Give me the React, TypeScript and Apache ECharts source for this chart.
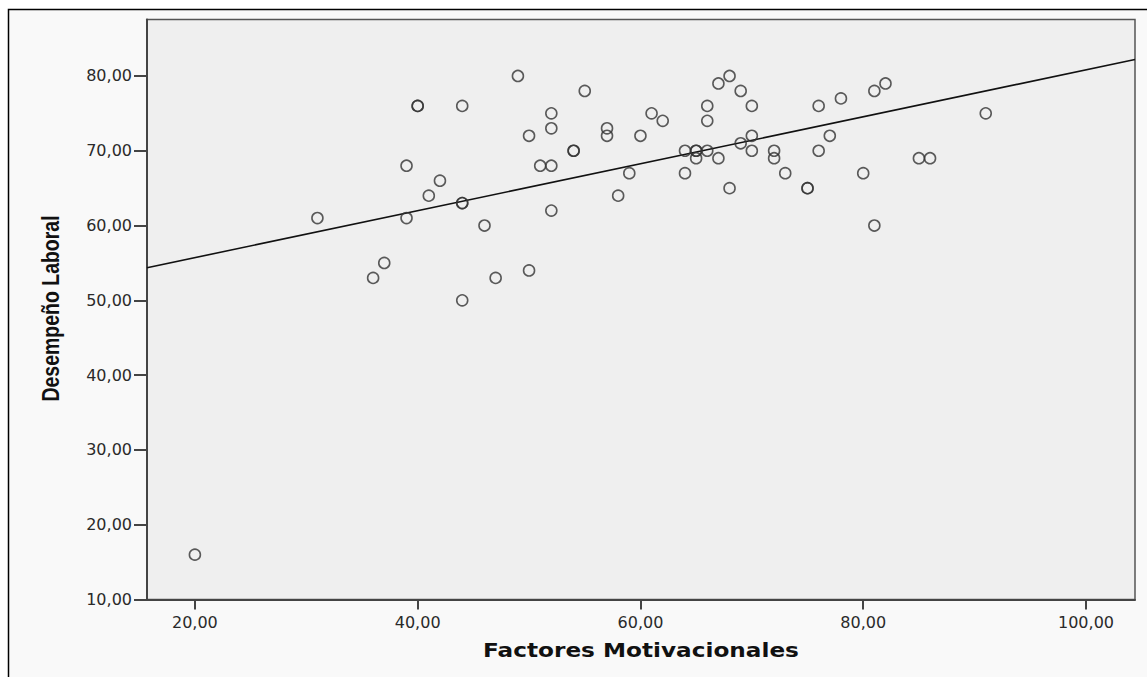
import React, { useEffect, useRef } from "react";
import * as echarts from "echarts";

const xTicks = [20, 40, 60, 80, 100];
const yTicks = [10, 20, 30, 40, 50, 60, 70, 80];
const xTitle = "Factores Motivacionales";
const yTitle = "Desempeño Laboral";

// [Factores Motivacionales, Desempeño Laboral]
const points: [number, number][] = [
  [20, 16], [31, 61], [36, 53], [37, 55], [39, 68], [39, 61], [40, 76], [40, 76],
  [41, 64], [42, 66], [44, 76], [44, 63], [44, 63], [44, 50], [46, 60], [47, 53],
  [49, 80], [50, 72], [50, 54], [51, 68], [52, 75], [52, 73], [52, 68], [52, 62],
  [54, 70], [54, 70], [55, 78], [57, 73], [57, 72], [58, 64], [59, 67], [60, 72],
  [61, 75], [62, 74], [64, 70], [64, 67], [65, 70], [65, 70], [65, 69], [66, 70],
  [66, 76], [66, 74], [67, 79], [67, 69], [68, 80], [68, 65], [69, 78], [69, 71],
  [70, 76], [70, 72], [70, 70], [72, 70], [72, 69], [73, 67], [75, 65], [75, 65],
  [76, 76], [76, 70], [77, 72], [78, 77], [80, 67], [81, 78], [81, 60], [82, 79],
  [85, 69], [86, 69], [91, 75],
];

// fit line endpoints
const fitLine: [number, number][] = [
  [15.7, 54.36],
  [104.4, 82.2],
];

const fmt = (v: number) => v.toFixed(2).replace(".", ",");

export default function App() {
  const ref = useRef<HTMLDivElement>(null);
  useEffect(() => {
    document.body.style.margin = "0";
    const chart = echarts.init(ref.current!, undefined, { renderer: "svg" });
    chart.setOption({
      animation: false,
      backgroundColor: "#ffffff",
      grid: {
        left: 147,
        top: 19.5,
        right: 12,
        bottom: 77.5,
        show: true,
        backgroundColor: "#efefef",
        borderColor: "#555",
        borderWidth: 1.5,
      },
      xAxis: {
        type: "value",
        min: 15.7,
        max: 104.4,
        splitLine: { show: false },
        axisLine: { show: true, lineStyle: { color: "#444", width: 2 } },
        axisTick: { show: true, length: 10, customValues: xTicks, lineStyle: { color: "#444", width: 2 } },
        axisLabel: {
          customValues: xTicks,
          formatter: (v: number) => fmt(v),
          color: "#2a2a2a",
          fontFamily: "DejaVu Sans",
          fontSize: 16,
          margin: 15,
        },
      },
      yAxis: {
        type: "value",
        min: 10,
        max: 87.55,
        splitLine: { show: false },
        axisLine: { show: true, lineStyle: { color: "#444", width: 2 } },
        axisTick: { show: true, length: 13, customValues: yTicks, lineStyle: { color: "#444", width: 2 } },
        axisLabel: {
          customValues: yTicks,
          formatter: (v: number) => fmt(v),
          color: "#2a2a2a",
          fontFamily: "DejaVu Sans",
          fontSize: 16,
          margin: 15,
        },
      },
      graphic: [
        {
          type: "rect",
          z: -100,
          silent: true,
          shape: { x: 8.5, y: 9.5, width: 1200, height: 700 },
          style: { fill: "#f9f9f9", stroke: "#000", lineWidth: 1.5 },
        },
        {
          type: "text",
          x: 641,
          y: 650,
          scaleX: 1.22,
          style: {
            text: xTitle,
            fill: "#111",
            font: "bold 19px 'DejaVu Sans'",
            textAlign: "center",
            textVerticalAlign: "middle",
          },
        },
        {
          type: "text",
          x: 51,
          y: 308.5,
          rotation: Math.PI / 2,
          scaleY: 1.2,
          style: {
            text: yTitle,
            fill: "#111",
            font: "bold 19.5px 'Liberation Sans'",
            textAlign: "center",
            textVerticalAlign: "middle",
          },
        },
      ],
      series: [
        {
          type: "line",
          data: fitLine,
          symbol: "none",
          lineStyle: { color: "#111", width: 1.6 },
          z: 2,
        },
        {
          type: "scatter",
          data: points,
          symbol: "circle",
          symbolSize: 11,
          itemStyle: { color: "rgba(0,0,0,0)", borderColor: "#333", borderWidth: 1.6 },
          z: 3,
        },
      ],
    });
    return () => chart.dispose();
  }, []);
  return <div ref={ref} style={{ width: 1147, height: 677 }} />;
}
